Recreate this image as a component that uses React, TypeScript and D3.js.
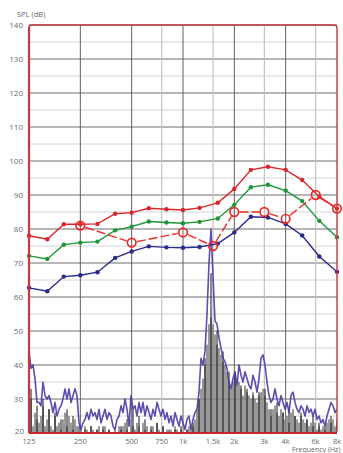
import React from "react";
import * as d3 from "d3";

// ---- Data ----
const thirdOctaveHz = [125, 160, 200, 250, 315, 400, 500, 630, 800, 1000, 1250, 1600, 2000, 2500, 3150, 4000, 5000, 6300, 8000];
const redCurve = [78, 77, 81.4, 81.4, 81.5, 84.5, 84.8, 86.1, 85.8, 85.6, 86.2, 87.7, 91.8, 97.4, 98.3, 97.4, 94.4, 89.5, 86];
const greenCurve = [72.1, 71.2, 75.4, 76, 76.3, 79.6, 80.7, 82.2, 81.9, 81.7, 82.1, 83.1, 87.1, 92.3, 93, 91.3, 88.2, 82.4, 77.6];
const blueCurve = [62.7, 61.7, 66, 66.4, 67.3, 71.5, 73.4, 74.9, 74.6, 74.5, 74.7, 75.7, 79, 83.6, 83.4, 81.5, 78.1, 71.9, 67.4];

const targetHz = [250, 500, 1000, 1500, 2000, 3000, 4000, 6000, 8000];
const targetDb = [81, 76, 79, 75, 85, 85, 83, 90, 86];

// spectrum sampled on an even log-frequency grid from 125 Hz to 8 kHz
const spectrumStartHz = 125;
const spectrumEndHz = 8000;
const spectrumLine = [
  44, 39, 40, 36, 29, 29, 28, 35, 31, 30,
  31, 29, 26, 29, 25, 27, 28, 30, 33, 30,
  33, 29, 31, 33, 31, 23, 21, 23, 24, 26,
  24, 27, 25, 26, 24, 27, 23, 25, 27, 24,
  26, 25, 22, 21, 24, 25, 28, 26, 30, 27,
  22, 31, 27, 28, 25, 29, 26, 29, 25, 28,
  26, 24, 27, 25, 29, 27, 25, 27, 24, 26,
  23, 25, 22, 26, 24, 22, 25, 23, 21, 24,
  25, 21, 24, 26, 27, 32, 42, 40, 44, 55,
  70, 80, 66, 53, 52, 48, 45, 42, 41, 39,
  35, 33, 36, 38, 34, 40, 37, 35, 38, 36,
  34, 33, 37, 35, 32, 36, 42, 43, 40, 35,
  31, 29, 30, 33, 30, 28, 31, 29, 27, 29,
  26, 31, 32, 29, 27, 26, 28, 27, 25, 28,
  26, 27, 25, 27, 24, 25, 23, 24, 22, 25,
  27, 29, 28, 26, 27,
];
const spectrumBars = [
  33, 30, 22, 26, 24, 23, 25, 28, 22, 24,
  27, 22, 21, 25, 22, 23, 21, 24, 26, 22,
  25, 23, 21, 24, 22, 20, 21, 20, 22, 21,
  20, 22, 21, 20, 21, 22, 20, 21, 22, 20,
  21, 20, 20, 21, 20, 22, 21, 22, 23, 21,
  20, 24, 22, 21, 23, 22, 20, 23, 21, 22,
  20, 21, 22, 20, 23, 21, 20, 22, 20, 21,
  20, 21, 20, 22, 21, 20, 21, 20, 20, 21,
  22, 21, 22, 24, 27, 30, 33, 36, 40, 46,
  52, 54, 52, 49, 46, 45, 43, 41, 40, 38,
  35, 33, 35, 36, 34, 35, 33, 31, 34, 32,
  31, 30, 32, 30, 29, 31, 32, 33, 31, 29,
  27, 25, 27, 28, 26, 25, 27, 26, 24, 25,
  23, 26, 27, 25, 24, 23, 25, 24, 23, 24,
  22, 23, 22, 23, 21, 22, 21, 22, 21, 23,
  24, 23, 24, 22, 23,
];
// peak lines every 3rd spectrum bin, starting at bin 1
const peakStep = 3;
const peakOffset = 1;
const peakLines = [
  33, 28, 30, 27, 26, 24, 27, 25, 22, 21,
  22, 21, 22, 21, 20, 22, 24, 27, 25, 24,
  22, 23, 22, 21, 21, 22, 21, 23, 30, 42,
  67, 50, 44, 38, 38, 34, 33, 31, 32, 33,
  27, 29, 26, 27, 25, 26, 24, 25, 23, 22,
  25, 24,
];

const yTicks = [20, 30, 40, 50, 60, 70, 80, 90, 100, 110, 120, 130, 140];
const xTickHz = [125, 250, 500, 750, 1000, 1500, 2000, 3000, 4000, 6000, 8000];
const xTickLabels = ["125", "250", "500", "750", "1k", "1.5k", "2k", "3k", "4k", "6k", "8k"];
const majorXHz = [250, 500, 1000, 2000, 4000];
const minorXHz = [750, 1500, 3000, 6000];

// ---- Layout ----
const W = 343;
const H = 453;
const L = 29, R = 337, T = 25, B = 433;

const RED = "#d8272c";
const GREEN = "#1f963a";
const BLUE = "#2b2a8a";
const BORDER = "#c5383c";
const FONT = "'Open Sans', 'DejaVu Sans', sans-serif";

export default function App() {
  const x = d3.scaleLog().domain([125, 8000]).range([L, R]);
  const y = d3.scaleLinear().domain([20, 140]).range([B, T]);

  const n = spectrumLine.length;
  const binHz = (i: number) => spectrumStartHz * Math.pow(spectrumEndHz / spectrumStartHz, i / (n - 1));

  const curveLine = d3
    .line<number>()
    .x((_, i) => x(thirdOctaveHz[i]))
    .y((d) => y(d));
  const specLine = d3
    .line<number>()
    .x((_, i) => x(binHz(i)))
    .y((d) => y(d));

  const gridH = d3.range(25, 141, 5);

  const curves = [
    { data: redCurve, color: RED },
    { data: greenCurve, color: GREEN },
    { data: blueCurve, color: BLUE },
  ];

  const cr = 4.3;
  const connectors = targetHz.slice(1).map((f, i) => {
    const x1 = x(targetHz[i]), y1 = y(targetDb[i]);
    const x2 = x(f), y2 = y(targetDb[i + 1]);
    const len = Math.hypot(x2 - x1, y2 - y1);
    const ux = (x2 - x1) / len, uy = (y2 - y1) / len;
    return { x1: x1 + ux * (cr + 1), y1: y1 + uy * (cr + 1), x2: x2 - ux * (cr + 1), y2: y2 - uy * (cr + 1) };
  });

  return (
    <svg width={W} height={H} style={{ position: "absolute", left: 0, top: 0, background: "#fff" }}>
      <defs>
        <clipPath id="plotClip">
          <rect x={L} y={T} width={R - L} height={B - T} />
        </clipPath>
      </defs>

      {gridH.map((v) => (
        <line
          key={"h" + v}
          x1={L}
          x2={R}
          y1={y(v)}
          y2={y(v)}
          stroke={v % 10 === 0 ? "#6e6e6e" : "#d4d4d4"}
          strokeWidth={1}
        />
      ))}
      {minorXHz.map((f) => (
        <line key={"vm" + f} x1={x(f)} x2={x(f)} y1={T} y2={B} stroke="#c4c4c4" strokeWidth={1.2} />
      ))}
      {majorXHz.map((f) => (
        <line key={"vM" + f} x1={x(f)} x2={x(f)} y1={T} y2={B} stroke="#5e5e5e" strokeWidth={1} />
      ))}

      <g clipPath="url(#plotClip)">
        {spectrumBars.map((v, i) => (
          <rect
            key={"b" + i}
            x={x(binHz(i)) - 0.8}
            width={1.6}
            y={y(v)}
            height={B - y(v)}
            fill="#808080"
          />
        ))}
        {peakLines.map((v, k) => {
          const xi = x(binHz(peakOffset + k * peakStep));
          return <line key={"p" + k} x1={xi} x2={xi} y1={B} y2={y(v)} stroke="#151515" strokeWidth={1} />;
        })}
        <path d={specLine(spectrumLine) || ""} fill="none" stroke="#4a3aa6" strokeWidth={1.6} strokeLinejoin="round" opacity={0.9} />
      </g>

      {curves.map((c, ci) => (
        <g key={"c" + ci}>
          <path d={curveLine(c.data) || ""} fill="none" stroke={c.color} strokeWidth={1.4} />
          {c.data.map((v, i) => (
            <circle key={i} cx={x(thirdOctaveHz[i])} cy={y(v)} r={2.2} fill={c.color} />
          ))}
        </g>
      ))}

      {connectors.map((s, i) => (
        <line key={"t" + i} x1={s.x1} y1={s.y1} x2={s.x2} y2={s.y2} stroke="#ec2a2a" strokeWidth={1.4} strokeDasharray="9,3" />
      ))}
      {targetHz.map((f, i) => (
        <circle key={"tc" + i} cx={x(f)} cy={y(targetDb[i])} r={cr} fill="none" stroke="#ec2a2a" strokeWidth={1.7} />
      ))}

      <rect x={L} y={T} width={R - L} height={B - T} rx={3} fill="none" stroke={BORDER} strokeWidth={1.4} />
      <line x1={L} x2={L} y1={T + 2} y2={B} stroke={BORDER} strokeWidth={2.2} />
      <line x1={L} x2={R} y1={B} y2={B} stroke="#c8262b" strokeWidth={2.2} />

      <text x={17} y={17} fontFamily={FONT} fontSize={7.5} fill="#666">SPL (dB)</text>
      {yTicks.map((v) => (
        <text
          key={"yt" + v}
          x={v === 20 ? 24 : 23}
          y={v === 20 ? y(v) + 1 : y(v) + 3}
          textAnchor="end"
          fontFamily={FONT}
          fontSize={8}
          fill="#6a6a6a"
        >
          {v}
        </text>
      ))}
      {xTickHz.map((f, i) => (
        <text
          key={"xt" + f}
          x={x(f)}
          y={444}
          textAnchor="middle"
          fontFamily={FONT}
          fontSize={7.5}
          fill="#6a6a6a"
        >
          {xTickLabels[i]}
        </text>
      ))}
      <text x={292} y={452} fontFamily={FONT} fontSize={7} fill="#666">Frequency (Hz)</text>
    </svg>
  );
}
